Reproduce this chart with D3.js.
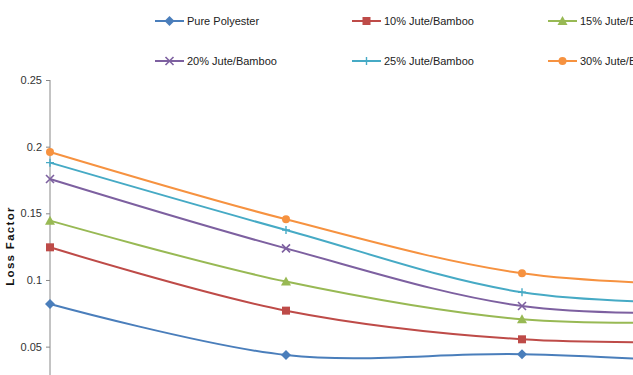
<!DOCTYPE html>
<html><head><meta charset="utf-8">
<script src="https://cdn.jsdelivr.net/npm/d3@7"></script>
<style>body{margin:0;background:#fff}svg{display:block}text{font-family:"Liberation Sans",Arial,sans-serif}</style>
</head><body>
<svg id="c" width="633" height="375"></svg>
<script>
const categories = [1, 2, 3, 4];
const seriesNames = ["Pure Polyester","10% Jute/Bamboo","15% Jute/Bamboo","20% Jute/Bamboo","25% Jute/Bamboo","30% Jute/Bamboo"];
const purePolyester = [0.082, 0.0437, 0.0443, 0.036];
const jute10 = [0.1245, 0.077, 0.0555, 0.054];
const jute15 = [0.1445, 0.0988, 0.0705, 0.069];
const jute20 = [0.1757, 0.1237, 0.0805, 0.0755];
const jute25 = [0.188, 0.1375, 0.0908, 0.0825];
const jute30 = [0.196, 0.1455, 0.105, 0.0955];
const yTicks = [0.05, 0.1, 0.15, 0.2, 0.25];
const colors = ["#4A7EBB","#BE4B48","#98B954","#7D60A0","#46AAC5","#F69240"];
const markers = ["diamond","square","triangle","x","plus","circle"];

const series = [purePolyester, jute10, jute15, jute20, jute25, jute30];
const svg = d3.select("#c");
const x = d3.scalePoint().domain(categories).range([50, 758]);
const y = d3.scaleLinear().domain([0, 0.25]).range([413.3, 80]);

// y axis
const ax = svg.append("g").attr("transform","translate(50,0)")
  .call(d3.axisLeft(y).tickValues(yTicks).tickSize(4).tickPadding(4).tickFormat(d3.format("")));
ax.select(".domain").remove();
ax.selectAll(".tick line").attr("stroke","#888");
ax.selectAll(".tick text").attr("fill","#333").style("font-size","11px");
svg.append("line").attr("x1",50).attr("x2",50).attr("y1",80).attr("y2",375).attr("stroke","#888").attr("stroke-width",1);

svg.append("text").attr("transform","translate(14,246) rotate(-90)").attr("text-anchor","middle")
  .style("font-size","11.5px").style("font-weight","bold").style("letter-spacing","1.3px").attr("fill","#111").text("Loss Factor");

const line = d3.line().x((d,i)=>x(categories[i])).y(d=>y(d)).curve(d3.curveCardinal.tension(0));

function drawMarker(g, type, cx, cy, color){
  if(type==="diamond") g.append("path").attr("d",`M${cx},${cy-5}L${cx+5},${cy}L${cx},${cy+5}L${cx-5},${cy}Z`).attr("fill",color);
  else if(type==="square") g.append("rect").attr("x",cx-4).attr("y",cy-4).attr("width",8).attr("height",8).attr("fill",color);
  else if(type==="triangle") g.append("path").attr("d",`M${cx},${cy-5}L${cx+5},${cy+4}L${cx-5},${cy+4}Z`).attr("fill",color);
  else if(type==="x") g.append("path").attr("d",`M${cx-4},${cy-4}L${cx+4},${cy+4}M${cx-4},${cy+4}L${cx+4},${cy-4}`).attr("stroke",color).attr("stroke-width",1.6);
  else if(type==="plus") g.append("path").attr("d",`M${cx-4},${cy}L${cx+4},${cy}M${cx},${cy-4}L${cx},${cy+4}`).attr("stroke",color).attr("stroke-width",1.4);
  else if(type==="circle") g.append("circle").attr("cx",cx).attr("cy",cy).attr("r",4).attr("fill",color);
}

series.forEach((vals, si)=>{
  const g = svg.append("g");
  g.append("path").attr("d", line(vals)).attr("fill","none").attr("stroke",colors[si]).attr("stroke-width",2);
  vals.forEach((v,i)=>drawMarker(g, markers[si], x(categories[i]), y(v), colors[si]));
});

// legend
const legX = [155, 352, 548], legY = [21, 61];
seriesNames.forEach((n, i)=>{
  const lx = legX[i%3], ly = legY[Math.floor(i/3)];
  const g = svg.append("g");
  g.append("line").attr("x1",lx).attr("x2",lx+29).attr("y1",ly).attr("y2",ly).attr("stroke",colors[i]).attr("stroke-width",2);
  drawMarker(g, markers[i], lx+14.5, ly, colors[i]);
  g.append("text").attr("x",lx+32).attr("y",ly+4).style("font-size","11px").attr("fill","#222").text(n);
});
</script>
</body></html>
